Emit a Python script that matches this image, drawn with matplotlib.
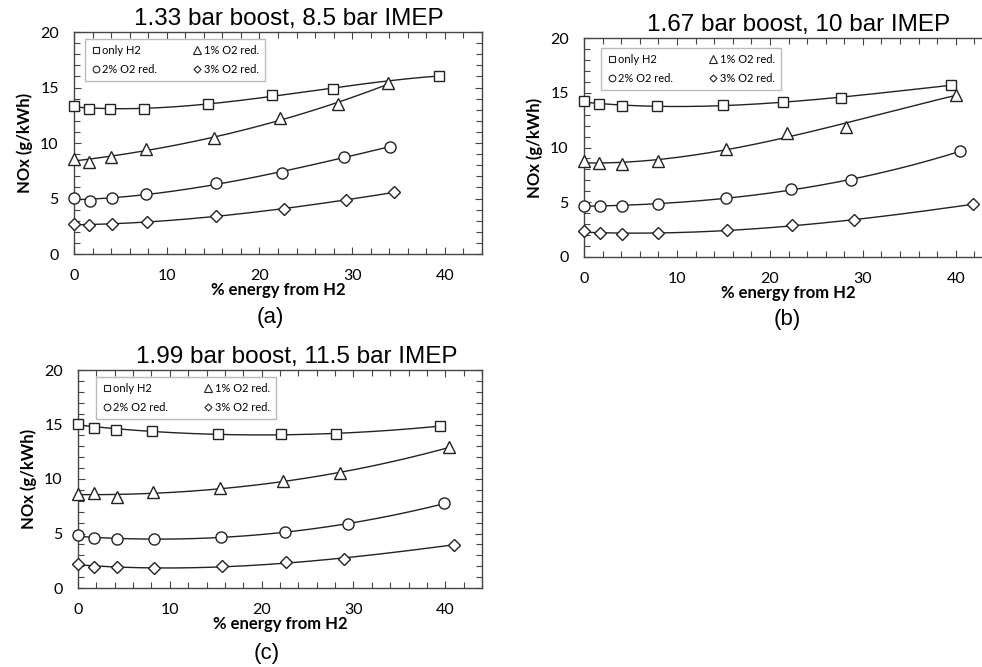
import numpy as np
import matplotlib
matplotlib.use("Agg")
import matplotlib.pyplot as plt
from matplotlib.ticker import MultipleLocator

# panel (a): 1.33 bar boost, 8.5 bar IMEP
a_h2_x = [0, 1.6, 3.9, 7.6, 14.5, 21.4, 27.9, 39.4]
a_h2_y = [13.33, 13.1, 13.05, 13.1, 13.55, 14.3, 14.86, 16.06]
a_o1_x = [0, 1.6, 4.0, 7.75, 15.1, 22.2, 28.5, 33.9]
a_o1_y = [8.56, 8.32, 8.77, 9.43, 10.45, 12.22, 13.5, 15.37]
a_o2_x = [0, 1.7, 4.1, 7.75, 15.3, 22.45, 29.1, 34.1]
a_o2_y = [5.02, 4.8, 5.02, 5.37, 6.4, 7.3, 8.74, 9.67]
a_o3_x = [0, 1.6, 4.1, 7.9, 15.3, 22.6, 29.3, 34.5]
a_o3_y = [2.67, 2.63, 2.67, 2.91, 3.42, 4.08, 4.86, 5.56]

# panel (b): 1.67 bar boost, 10 bar IMEP
b_h2_x = [0, 1.6, 4.05, 7.8, 14.9, 21.4, 27.6, 39.5]
b_h2_y = [14.25, 13.94, 13.79, 13.79, 13.85, 14.2, 14.52, 15.7]
b_o1_x = [0, 1.6, 4.1, 8.0, 15.3, 21.8, 28.2, 40.0]
b_o1_y = [8.77, 8.55, 8.46, 8.8, 9.86, 11.3, 11.9, 14.82]
b_o2_x = [0, 1.7, 4.1, 8.0, 15.3, 22.3, 28.7, 40.4]
b_o2_y = [4.69, 4.63, 4.69, 4.84, 5.39, 6.21, 7.0, 9.65]
b_o3_x = [0, 1.7, 4.1, 8.0, 15.4, 22.4, 29.1, 41.9]
b_o3_y = [2.37, 2.16, 2.07, 2.22, 2.47, 2.89, 3.35, 4.84]

# panel (c): 1.99 bar boost, 11.5 bar IMEP
c_h2_x = [0, 1.74, 4.14, 8.1, 15.3, 22.1, 28.1, 39.4]
c_h2_y = [15.07, 14.7, 14.52, 14.43, 14.1, 14.1, 14.13, 14.86]
c_o1_x = [0, 1.74, 4.2, 8.2, 15.5, 22.3, 28.5, 40.4]
c_o1_y = [8.58, 8.67, 8.37, 8.77, 9.13, 9.78, 10.57, 12.9]
c_o2_x = [0, 1.74, 4.2, 8.3, 15.6, 22.5, 29.4, 39.9]
c_o2_y = [4.84, 4.57, 4.48, 4.5, 4.69, 5.15, 5.85, 7.76]
c_o3_x = [0, 1.74, 4.2, 8.3, 15.7, 22.6, 29.0, 41.0]
c_o3_y = [2.24, 1.93, 1.90, 1.81, 1.99, 2.36, 2.67, 3.99]

series_labels = ["only H2", "1% O2 red.", "2% O2 red.", "3% O2 red."]
series_markers = ["s", "^", "o", "D"]
marker_sizes = [7.5, 8.5, 8, 6]

panels = [
    dict(title="1.33 bar boost, 8.5 bar IMEP", tag="(a)",
         data=[(a_h2_x, a_h2_y), (a_o1_x, a_o1_y), (a_o2_x, a_o2_y), (a_o3_x, a_o3_y)],
         rect=[74, 32, 482, 254], title_xy=(289, 25), tag_xy=(270, 318),
         leg=(0.027, 0.968)),
    dict(title="1.67 bar boost, 10 bar IMEP", tag="(b)",
         data=[(b_h2_x, b_h2_y), (b_o1_x, b_o1_y), (b_o2_x, b_o2_y), (b_o3_x, b_o3_y)],
         rect=[584, 38, 993, 257], title_xy=(799, 31), tag_xy=(787, 320),
         leg=(0.042, 0.954)),
    dict(title="1.99 bar boost, 11.5 bar IMEP", tag="(c)",
         data=[(c_h2_x, c_h2_y), (c_o1_x, c_o1_y), (c_o2_x, c_o2_y), (c_o3_x, c_o3_y)],
         rect=[78, 370, 482, 588], title_xy=(297, 363), tag_xy=(267, 654),
         leg=(0.045, 0.968)),
]

W, H = 982, 667
fig = plt.figure(figsize=(W / 100, H / 100), dpi=100)
label_font = "Lato"
title_font = "Liberation Sans"
ink = "#222222"

for p in panels:
    x0, y0, x1, y1 = p["rect"]
    ax = fig.add_axes([x0 / W, 1 - y1 / H, (x1 - x0) / W, (y1 - y0) / H])
    handles = []
    for (xs, ys), m, ms, lab in zip(p["data"], series_markers, marker_sizes, series_labels):
        xs = np.asarray(xs)
        ys = np.asarray(ys)
        # polynomial trendline through each series
        coef = np.polyfit(xs, ys, 3)
        xf = np.linspace(xs.min(), xs.max(), 200)
        ax.plot(xf, np.polyval(coef, xf), color=ink, lw=1.0, zorder=2)
        ax.plot(xs, ys, linestyle="none", marker=m, ms=ms, mfc="white",
                mec=ink, mew=1.0, zorder=3, clip_on=False)
        h, = ax.plot([], [], linestyle="none", marker=m, ms=ms * 0.6, mfc="white",
                     mec=ink, mew=0.8, label=lab)
        handles.append(h)

    ax.set_xlim(0, 44)
    ax.set_ylim(0, 20)
    ax.xaxis.set_major_locator(MultipleLocator(10))
    ax.xaxis.set_minor_locator(MultipleLocator(2))
    ax.yaxis.set_major_locator(MultipleLocator(5))
    ax.yaxis.set_minor_locator(MultipleLocator(1))
    ax.tick_params(which="both", direction="in", top=True, right=True,
                   color="#444444", width=0.8)
    ax.tick_params(which="major", length=5)
    ax.tick_params(which="minor", length=4)
    ax.tick_params(axis="x", which="major", pad=11, labelsize=11.5)
    ax.tick_params(axis="y", which="major", pad=11, labelsize=11.5)
    for lbl in ax.get_xticklabels() + ax.get_yticklabels():
        lbl.set_fontfamily(label_font)
    for sp in ax.spines.values():
        sp.set_color("#444444")
        sp.set_linewidth(1.0)

    ax.set_xlabel("% energy from H2", fontfamily=label_font, fontweight="bold",
                  fontsize=12, labelpad=-1)
    ax.set_ylabel("NOx (g/kWh)", fontfamily=label_font, fontweight="bold",
                  fontsize=12, labelpad=5)

    order = [handles[0], handles[2], handles[1], handles[3]]
    leg = ax.legend(handles=order, labels=[h.get_label() for h in order], ncol=2,
                    loc="upper left", bbox_to_anchor=p["leg"], frameon=True,
                    fancybox=False, edgecolor="#bbbbbb", framealpha=1,
                    prop={"family": label_font, "size": 8}, handlelength=0.8,
                    handletextpad=0.2, columnspacing=3.2, labelspacing=0.7,
                    borderpad=0.55, borderaxespad=0)
    leg.get_frame().set_linewidth(1.0)

    tx, ty = p["title_xy"]
    fig.text(tx / W, 1 - ty / H, p["title"], ha="center", va="baseline",
             fontfamily=title_font, fontsize=17.5)
    gx, gy = p["tag_xy"]
    fig.text(gx / W, 1 - gy / H, p["tag"], ha="center", va="center",
             fontfamily=title_font, fontsize=16)

fig.savefig("out.png", dpi=100)
